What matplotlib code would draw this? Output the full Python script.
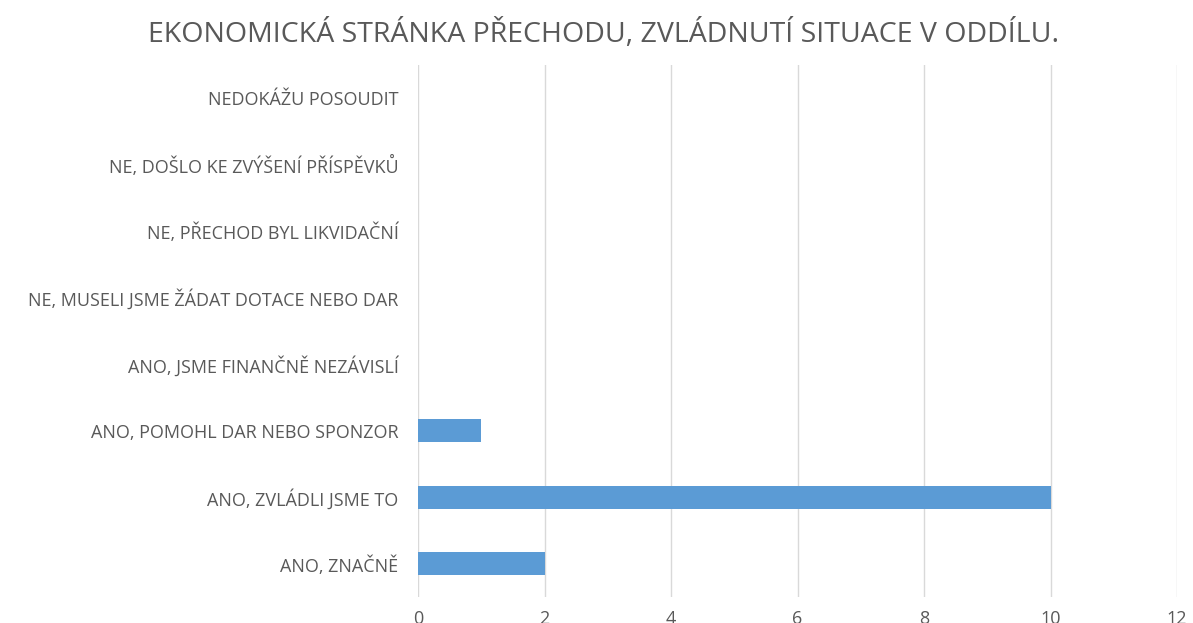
import matplotlib
matplotlib.use("Agg")
import matplotlib.pyplot as plt

# --- Dados ---
kategorie = [
    "ANO, ZNAČNĚ",
    "ANO, ZVLÁDLI JSME TO",
    "ANO, POMOHL DAR NEBO SPONZOR",
    "ANO, JSME FINANČNĚ NEZÁVISLÍ",
    "NE, MUSELI JSME ŽÁDAT DOTACE NEBO DAR",
    "NE, PŘECHOD BYL LIKVIDAČNÍ",
    "NE, DOŠLO KE ZVÝŠENÍ PŘÍSPĚVKŮ",
    "NEDOKÁŽU POSOUDIT",
]
hodnoty = [2, 10, 1, 0, 0, 0, 0, 0]
x_ticks = [0, 2, 4, 6, 8, 10, 12]
titulek = "EKONOMICKÁ STRÁNKA PŘECHODU, ZVLÁDNUTÍ SITUACE V ODDÍLU."

plt.rcParams['font.family'] = ['Open Sans', 'DejaVu Sans']
sedy = "#595959"

fig = plt.figure(figsize=(11.93, 6.23), dpi=100)
ax = fig.add_axes([0.3504, 0.0417, 0.6362, 0.854])

ax.barh(range(len(kategorie)), hodnoty, height=0.35, color="#5B9BD5", zorder=3)

ax.set_xlim(0, 12)
ax.set_ylim(-0.5, len(kategorie) - 0.5)
ax.set_xticks(x_ticks)
ax.set_xticklabels([str(t) for t in x_ticks])
ax.set_yticks(range(len(kategorie)))
ax.set_yticklabels(kategorie)

ax.grid(axis='x', color="#D9D9D9", linewidth=1, zorder=0)
for s in ax.spines.values():
    s.set_visible(False)
ax.tick_params(axis='both', length=0, colors=sedy, labelsize=13)
ax.tick_params(axis='y', pad=14)
ax.tick_params(axis='x', pad=9)

fig.text(0.506, 0.945, titulek, ha='center', va='center', fontsize=20.5, color=sedy)

fig.savefig("out.png", dpi=100)
